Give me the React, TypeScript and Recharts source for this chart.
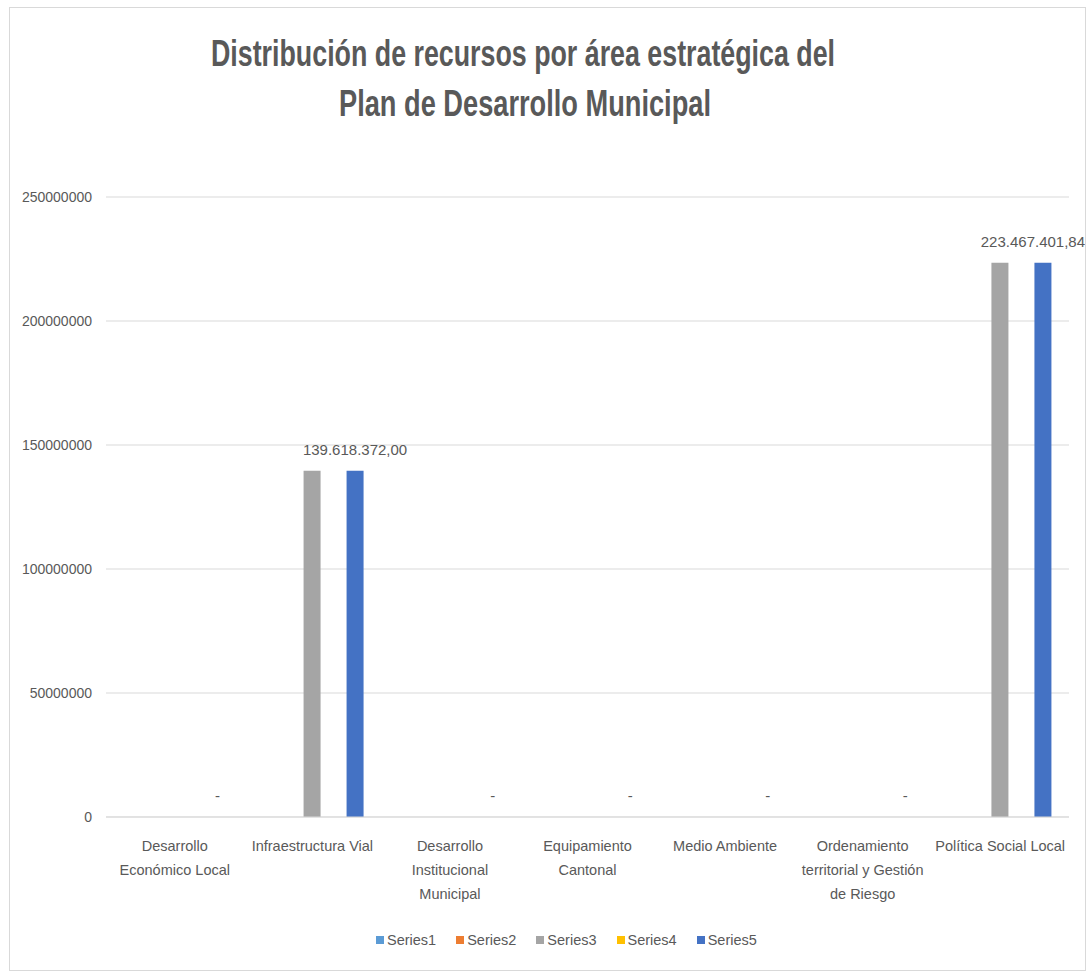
import React from 'react';
import { BarChart, Bar, XAxis, YAxis, CartesianGrid, LabelList } from 'recharts';

const categories = [
  'Desarrollo Económico Local',
  'Infraestructura Vial',
  'Desarrollo Institucional Municipal',
  'Equipamiento Cantonal',
  'Medio Ambiente',
  'Ordenamiento territorial y Gestión de Riesgo',
  'Política Social Local',
];
const tickLabels = [
  ['Desarrollo', 'Económico Local'],
  ['Infraestructura Vial'],
  ['Desarrollo', 'Institucional', 'Municipal'],
  ['Equipamiento', 'Cantonal'],
  ['Medio Ambiente'],
  ['Ordenamiento', 'territorial y Gestión', 'de Riesgo'],
  ['Política Social Local'],
];
const series1 = [0, 0, 0, 0, 0, 0, 0];
const series2 = [0, 0, 0, 0, 0, 0, 0];
const series3 = [0, 139618372, 0, 0, 0, 0, 223467401.84];
const series4 = [0, 0, 0, 0, 0, 0, 0];
const series5 = [0, 139618372, 0, 0, 0, 0, 223467401.84];
const seriesNames = ['Series1', 'Series2', 'Series3', 'Series4', 'Series5'];
const seriesColors = ['#5B9BD5', '#ED7D31', '#A5A5A5', '#FFC000', '#4472C4'];
const yTicks = [0, 50000000, 100000000, 150000000, 200000000, 250000000];
const titleLines = ['Distribución de recursos por área estratégica del', 'Plan de Desarrollo Municipal'];

const allSeries = [series1, series2, series3, series4, series5];
const data = categories.map((c, i) => {
  const row: any = { name: c, idx: i };
  seriesNames.forEach((s, k) => { row[s] = allSeries[k][i]; });
  return row;
});

const FONT = "'Liberation Sans', Arial, sans-serif";
const TXT = '#595959';
const W = 1075;
const H = 962;

const fmt = (v: number) => {
  if (!v) return '-';
  const [int, dec] = v.toFixed(2).split('.');
  return int.replace(/\B(?=(\d{3})+(?!\d))/g, '.') + ',' + dec;
};

const XTick = (props: any) => {
  const { x, y, payload } = props;
  const lines = tickLabels[payload.index] || [String(payload.value)];
  return (
    <g>
      {lines.map((l: string, i: number) => (
        <text key={i} x={x} y={y + 34 + i * 24} textAnchor="middle" fill={TXT}
          fontFamily={FONT} fontSize={14.5}>{l}</text>
      ))}
    </g>
  );
};

const ValueLabel = (props: any) => {
  const { x, y, width, value } = props;
  const s = fmt(Number(value));
  const est = s.length * 7.3;
  let cx = Number(x) + Number(width) / 2;
  if (cx + est / 2 > W - 1) cx = W - 1 - est / 2;
  return (
    <text x={cx} y={Number(y) - 16} textAnchor="middle" fill={TXT} fontFamily={FONT} fontSize={15}>{s}</text>
  );
};

export default function App() {
  return (
    <div style={{ width: 1088, height: 974, boxSizing: 'border-box', padding: '7px 0 0 9px', background: '#fff' }}>
      <style>{'body{margin:0;}'}</style>
      <div style={{ position: 'relative', width: W, height: H, border: '1px solid #d9d9d9', background: '#fff',
        overflow: 'hidden' }}>
        <svg width={W} height={140} style={{ position: 'absolute', left: 0, top: 0 }}>
          <text x={513} y={58} textAnchor="middle" fill={TXT} fontFamily={FONT} fontWeight="bold" fontSize={37}
            textLength={624} lengthAdjust="spacingAndGlyphs">{titleLines[0]}</text>
          <text x={515} y={108} textAnchor="middle" fill={TXT} fontFamily={FONT} fontWeight="bold" fontSize={37}
            textLength={372} lengthAdjust="spacingAndGlyphs">{titleLines[1]}</text>
        </svg>
        <div style={{ position: 'absolute', left: 0, top: 0 }}>
          <BarChart width={W} height={H} data={data} margin={{ top: 189, right: 16, left: 0, bottom: 73 }}
            barSize={17} barGap={4.5}>
            <CartesianGrid vertical={false} stroke="#d9d9d9" />
            <XAxis dataKey="name" height={80} tick={<XTick />} tickLine={false} axisLine={{ stroke: '#d9d9d9' }}
              interval={0} tickSize={0} tickMargin={0} />
            <YAxis width={96} domain={[0, 250000000]} ticks={yTicks} axisLine={false} tickLine={false}
              tickSize={0} tickMargin={14} tick={{ fill: TXT, fontFamily: FONT, fontSize: 14 }}
              tickFormatter={(v: number) => String(v)} />
            {seriesNames.map((s, k) => (
              <Bar key={s} dataKey={s} fill={seriesColors[k]} isAnimationActive={false}
                minPointSize={k === 4 ? 0.01 : 0}>
                {k === 4 ? <LabelList dataKey={s} content={<ValueLabel />} /> : null}
              </Bar>
            ))}
          </BarChart>
        </div>
        <div style={{ position: 'absolute', left: 366, top: 924, display: 'flex', alignItems: 'center',
          fontFamily: FONT, fontSize: 14.5, color: TXT, whiteSpace: 'nowrap' }}>
          {seriesNames.map((s, k) => (
            <div key={s} style={{ display: 'flex', alignItems: 'center', marginRight: 20 }}>
              <span style={{ display: 'inline-block', width: 8, height: 8, background: seriesColors[k], marginRight: 3 }} />
              <span>{s}</span>
            </div>
          ))}
        </div>
      </div>
    </div>
  );
}
